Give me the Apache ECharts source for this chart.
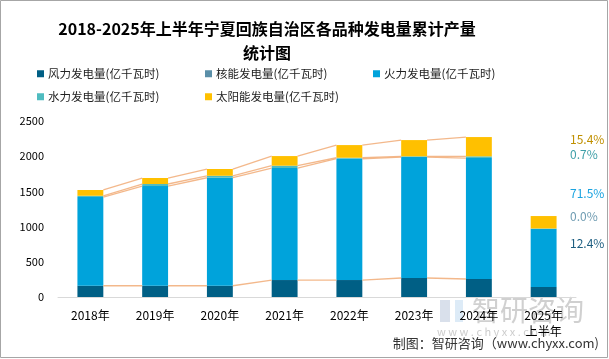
<!DOCTYPE html>
<html><head><meta charset="utf-8">
<script src="https://cdn.jsdelivr.net/npm/echarts@6/dist/echarts.min.js"></script>
<style>html,body{margin:0;padding:0;background:#fff}#c{width:609px;height:359px}</style>
</head><body><div id="c"></div>
<script>
const categories = ['2018年','2019年','2020年','2021年','2022年','2023年','2024年','2025年\n上半年'];
const windPower   = [160,160,160,241,241,270,256,143];
const nuclear     = [0,0,0,0,0,0,0,0];
const thermal     = [1260,1416,1534,1591,1723,1718,1718,822];
const hydro       = [18,29,28,33,14,10,24,8];
const solar       = [82,85,96,137,180,231,274,177];
const shareLabels = ['15.4%','0.7%','71.5%','0.0%','12.4%'];
const yTicks = [0,500,1000,1500,2000,2500];

const names = ['风力发电量(亿千瓦时)','核能发电量(亿千瓦时)','火力发电量(亿千瓦时)','水力发电量(亿千瓦时)','太阳能发电量(亿千瓦时)'];
const colors = ['#005F85','#5A8FA8','#00A3DB','#4FBCC0','#FFC000'];
const seriesData = [windPower, nuclear, thermal, hydro, solar];
const font = '"Noto Sans CJK SC","Microsoft YaHei",sans-serif';

// cumulative stack tops
const cum = seriesData.map((_, k) => categories.map((c, i) => seriesData.slice(0, k + 1).reduce((s, a) => s + a[i], 0)));
const lineLevels = [0, 2, 3, 4];

const chart = echarts.init(document.getElementById('c'));
const legendPos = [[37,68],[205,68],[373,68],[37,91],[205,91]];
const bars = names.map((n, k) => ({
  name: n, type: 'bar', stack: 'total', barWidth: '40%', data: seriesData[k],
  itemStyle: { color: colors[k] }, emphasis: { disabled: true }
}));
const linkSeries = {
  type: 'custom', z: 5, silent: true,
  data: categories.slice(0, 6).map((c, i) => [i, 0]),
  renderItem: function (params, api) {
    const i = api.value(0);
    const hw = api.size([1, 0])[0] * 0.2;
    const children = lineLevels.map(k => {
      const p1 = api.coord([i, cum[k][i]]);
      const p2 = api.coord([i + 1, cum[k][i + 1]]);
      return { type: 'line', shape: { x1: p1[0] + hw, y1: p1[1], x2: p2[0] - hw, y2: p2[1] },
        style: { stroke: '#F2B07E', lineWidth: 1.3, opacity: 0.9 } };
    });
    return { type: 'group', children };
  }
};
const shareColors = ['#C09000','#3E9FA8','#1AA3E0','#6F9CB2','#1D5E80'];
const shareY = [140,155,194,217,244];

chart.setOption({
  backgroundColor: '#fff',
  animation: false,
  title: {
    text: '2018-2025年上半年宁夏回族自治区各品种发电量累计产量\n统计图',
    left: 262, top: 12, textAlign: 'center',
    textStyle: { fontFamily: font, fontSize: 16, fontWeight: 'bold', color: '#000', lineHeight: 24 }
  },
  legend: names.map((n, k) => ({
    data: [n], left: legendPos[k][0], top: legendPos[k][1], icon: 'rect',
    itemWidth: 7, itemHeight: 7, itemGap: 6, padding: 0,
    textStyle: { fontFamily: font, fontSize: 11.5, color: '#222', padding: [0,0,0,-1] }
  })),
  grid: { left: 58, right: 33, top: 121, bottom: 62 },
  xAxis: {
    type: 'category', data: categories,
    axisLine: { lineStyle: { color: '#D9D9D9', width: 1 } },
    axisTick: { show: false },
    axisLabel: { fontFamily: font, fontSize: 12, color: '#000', margin: 10, lineHeight: 16, interval: 0 }
  },
  yAxis: {
    type: 'value', min: yTicks[0], max: yTicks[yTicks.length - 1], interval: 500,
    axisLine: { show: false }, axisTick: { show: false }, splitLine: { show: false },
    axisLabel: { fontFamily: font, fontSize: 11, color: '#000', margin: 14, formatter: v => String(v) }
  },
  series: bars.concat([linkSeries]),
  graphic: [
    { type: 'rect', shape: { x: 0.5, y: 0.5, width: 607, height: 357 }, style: { fill: 'none', stroke: '#A6A6A6', lineWidth: 1 }, silent: true },
    ...shareLabels.map((t, i) => ({ type: 'text', left: 570, top: shareY[i] - 7,
      style: { text: t, fill: shareColors[i], font: '12px ' + font } })),
    { type: 'rect', shape: { x: 440, y: 300, width: 10, height: 22 }, style: { fill: '#C9D3E3', opacity: 0.7 }, silent: true },
    { type: 'rect', shape: { x: 455, y: 300, width: 8, height: 22 }, style: { fill: '#CFE3F3', opacity: 0.7 }, silent: true },
    { type: 'text', left: 472, top: 296, style: { text: '智研咨询', fill: 'rgba(170,170,170,0.55)', font: '28px ' + font } },
    { type: 'text', left: 437, top: 326, style: { text: 'w w w . c h y x x . c o m', fill: 'rgba(170,170,170,0.6)', font: '11px ' + font } },
    { type: 'text', right: 10, top: 337, style: { text: '制图：智研咨询（www.chyxx.com)', fill: '#333', font: '13px ' + font } }
  ]
});
</script></body></html>
